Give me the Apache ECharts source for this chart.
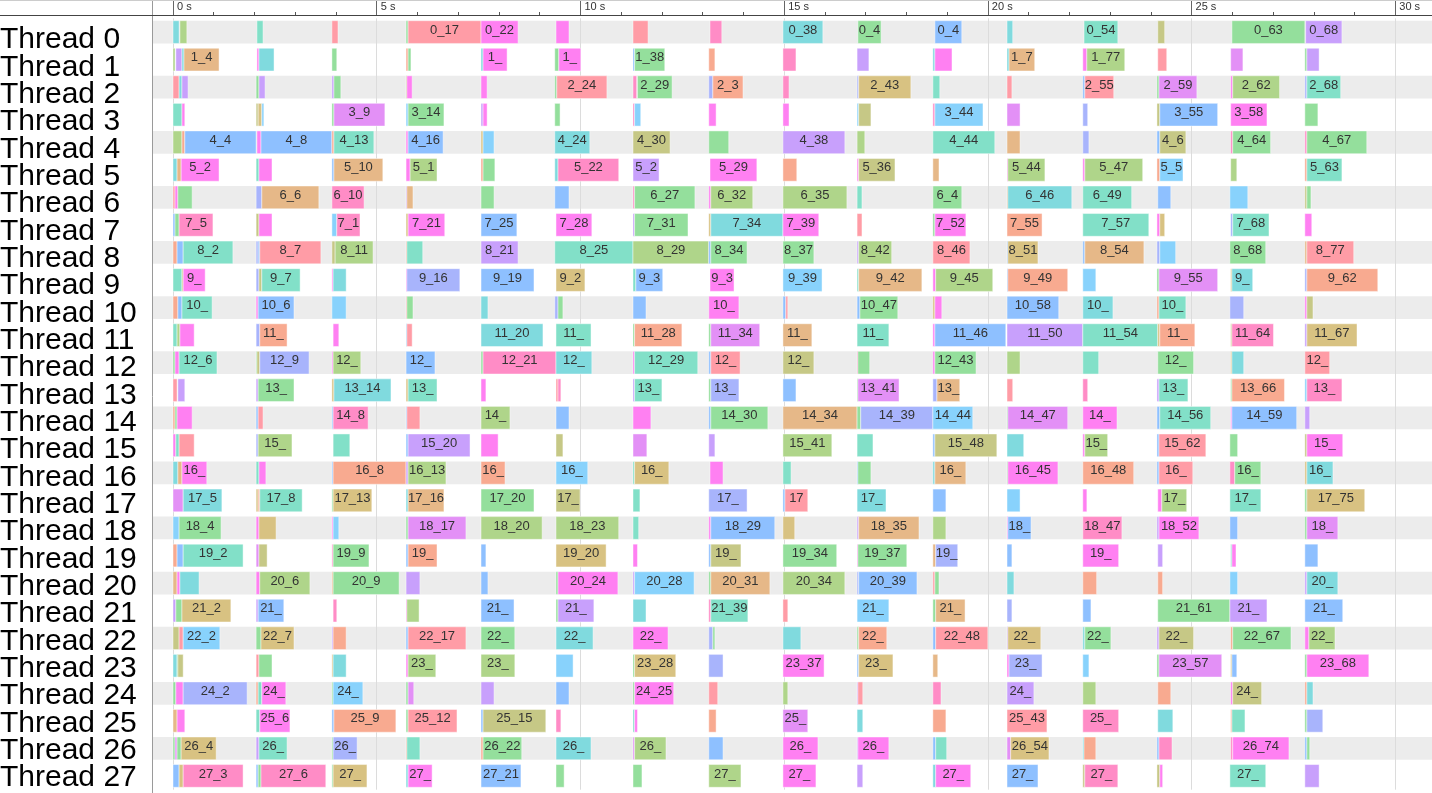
<!DOCTYPE html>
<html><head><meta charset="utf-8">
<script src="https://cdn.jsdelivr.net/npm/echarts@6.0.0/dist/echarts.min.js"></script>
<style>html,body{margin:0;padding:0;background:#fff;}#c{width:1432px;height:793px;}</style>
</head><body><div id="c"></div>
<script>
// ---- data (seconds): [start, end, kind, label] ----
const threadNames = ['Thread 0','Thread 1','Thread 2','Thread 3','Thread 4','Thread 5','Thread 6','Thread 7','Thread 8','Thread 9','Thread 10','Thread 11','Thread 12','Thread 13','Thread 14','Thread 15','Thread 16','Thread 17','Thread 18','Thread 19','Thread 20','Thread 21','Thread 22','Thread 23','Thread 24','Thread 25','Thread 26','Thread 27'];
const tickValues = [0,5,10,15,20,25,30];
const kindColors = ['#ff9ca6','#ff8cc6','#ff80f2','#e390f6','#c8a0fc','#a8b4fc','#8ec0ff','#88d2fc','#80dade','#82e0c8','#94df9c','#afd58a','#c6c886','#d8c282','#e6b888','#f8aa90'];

const t0 = [[0,0.15,8],[0.17,0.34,11],[2.06,2.21,9],[3.90,4.05,0],[5.72,5.77,10],[5.77,7.56,0,'0_17'],[7.56,8.47,2,'0_22'],[9.40,9.72,2],[11.29,11.66,0],[13.18,13.47,1],[14.97,15.95,8,'0_38'],[16.81,17.38,10,'0_4'],[18.70,19.36,6,'0_4'],[20.47,20.61,8],[22.36,23.19,9,'0_54'],[24.17,24.34,12],[25.99,27.78,10,'0_63'],[27.80,28.69,4,'0_68']];
const t1 = [[0,0.05,11],[0.07,0.22,4],[0.22,0.27,8],[0.27,1.13,14,'1_4'],[2.06,2.11,2],[2.11,2.48,8],[3.90,4.02,10],[5.72,5.77,15],[5.77,5.84,10],[7.56,7.61,8],[7.61,8.20,2,'1_'],[9.37,9.47,10],[9.47,10.01,2,'1_'],[11.29,11.33,6],[11.33,12.07,10,'1_38'],[13.15,13.30,15],[14.97,15.29,1],[16.79,17.08,4],[18.65,18.70,8],[18.70,19.12,2],[20.47,20.52,8],[20.52,21.15,14,'1_7'],[22.33,22.43,2],[22.43,23.36,11,'1_77'],[24.17,24.39,0],[25.96,26.26,3],[27.78,27.83,10],[27.83,28.13,4]];
const t2 = [[0,0.15,0],[0.15,0.22,8],[0.22,0.37,4],[2.04,2.11,10],[2.11,2.26,4],[3.90,3.95,4],[3.95,4.12,10],[5.72,5.74,12],[5.74,5.87,2],[7.56,7.71,2],[9.37,9.42,10],[9.42,10.65,0,'2_24'],[11.29,11.38,1],[11.40,12.25,10,'2_29'],[13.15,13.25,5],[13.25,13.99,15,'2_3'],[14.97,15.12,1],[16.79,16.83,5],[16.83,18.11,13,'2_43'],[18.65,18.82,9],[20.47,20.59,0],[22.33,22.38,6],[22.38,23.09,0,'2_55'],[24.15,24.20,10],[24.20,25.13,3,'2_59'],[25.96,26.01,2],[26.01,27.16,11,'2_62'],[27.78,27.83,5],[27.83,28.66,9,'2_68']];
const t3 = [[0,0.22,9],[0.22,0.29,2],[2.04,2.09,12],[2.09,2.18,13],[2.18,2.23,7],[3.90,3.95,10],[3.95,5.20,3,'3_9'],[5.72,5.77,7],[5.77,6.65,10,'3_14'],[7.56,7.61,4],[7.61,7.71,2],[9.37,9.50,10],[11.29,11.33,1],[11.33,11.48,7],[13.15,13.33,2],[14.97,15.12,2],[16.79,16.83,7],[16.83,17.13,12],[18.65,18.70,1],[18.70,19.88,7,'3_44'],[20.47,20.79,3],[22.33,22.45,5],[24.15,24.22,12],[24.22,25.64,6,'3_55'],[25.96,26.85,2,'3_58'],[27.78,28.10,10]];
const t4 = [[0,0.22,11],[0.22,0.29,15],[0.29,2.04,6,'4_4'],[2.06,2.16,2],[2.16,3.90,6,'4_8'],[3.90,3.95,15],[3.95,4.93,9,'4_13'],[5.72,5.77,2],[5.77,6.63,6,'4_16'],[7.56,7.61,13],[7.61,7.88,7],[9.37,10.23,8,'4_24'],[11.29,12.20,12,'4_30'],[13.15,13.64,10],[14.97,16.49,4,'4_38'],[16.79,16.98,11],[18.65,20.17,9,'4_44'],[20.47,20.79,14],[22.33,22.48,5],[24.15,24.22,6],[24.22,24.86,12,'4_6'],[25.96,26.01,1],[26.01,26.94,10,'4_64'],[27.78,27.83,1],[27.83,29.30,10,'4_67']];
const t5 = [[0,0.10,8],[0.10,0.20,14],[0.20,1.13,2,'5_2'],[2.04,2.11,9],[2.11,2.43,2],[3.90,3.95,6],[3.95,5.15,14,'5_10'],[5.72,5.82,2],[5.82,6.48,11,'5_1'],[7.56,7.61,15],[7.61,7.90,10],[9.37,9.45,8],[9.45,10.94,1,'5_22'],[11.29,11.93,4,'5_2'],[13.18,14.33,2,'5_29'],[14.97,15.31,15],[16.79,16.83,2],[16.83,17.72,12,'5_36'],[18.65,18.80,14],[20.47,20.49,2],[20.49,21.40,11,'5_44'],[22.33,22.38,2],[22.38,23.80,11,'5_47'],[24.15,24.22,15],[24.22,24.79,7,'5_5'],[25.96,26.11,11],[27.78,27.83,15],[27.83,28.69,9,'5_63']];
const t6 = [[0,0.05,0],[0.05,0.12,2],[0.12,0.47,10],[2.04,2.18,5],[2.18,3.58,14,'6_6'],[3.90,4.69,1,'6_10'],[5.72,5.74,4],[5.74,5.89,14],[7.56,7.88,10],[9.37,9.72,6],[11.29,11.33,1],[11.33,12.81,10,'6_27'],[13.15,13.20,2],[13.20,14.23,11,'6_32'],[14.97,16.54,11,'6_35'],[16.79,16.91,9],[18.65,19.36,10,'6_4'],[20.47,20.49,14],[20.49,22.06,8,'6_46'],[22.33,23.53,9,'6_49'],[24.17,24.49,6],[25.94,26.38,7],[27.78,27.83,12],[27.83,27.93,10]];
const t7 = [[0,0.05,6],[0.05,0.15,10],[0.15,0.98,1,'7_5'],[2.04,2.11,12],[2.11,2.43,2],[3.90,4.02,7],[4.02,4.59,1,'7_1'],[5.72,5.77,13],[5.77,6.67,2,'7_21'],[7.56,8.44,6,'7_25'],[9.40,10.28,2,'7_28'],[11.29,11.33,4],[11.33,12.64,10,'7_31'],[13.15,13.20,13],[13.20,14.97,8,'7_34'],[14.97,15.85,2,'7_39'],[16.79,16.91,0],[18.65,18.70,10],[18.70,19.46,2,'7_52'],[20.47,21.33,15,'7_55'],[22.33,23.95,9,'7_57'],[24.15,24.22,2],[24.22,24.34,13],[25.96,26.01,5],[26.01,26.90,9,'7_68'],[27.78,27.95,2]];
const t8 = [[0,0.10,15],[0.10,0.25,6],[0.25,1.47,9,'8_2'],[2.04,2.09,5],[2.09,2.13,6],[2.13,3.63,0,'8_7'],[3.90,3.98,12],[3.98,4.91,11,'8_11'],[5.72,5.74,15],[5.74,6.13,9],[7.56,8.47,4,'8_21'],[9.37,11.29,9,'8_25'],[11.29,13.15,11,'8_29'],[13.15,13.20,6],[13.20,14.09,10,'8_34'],[14.97,15.73,10,'8_37'],[16.79,16.83,4],[16.83,17.64,11,'8_42'],[18.65,19.56,0,'8_46'],[20.47,20.49,6],[20.49,21.23,13,'8_51'],[22.33,22.38,6],[22.38,23.83,14,'8_54'],[24.15,24.22,5],[24.22,24.61,7],[25.94,26.82,10,'8_68'],[27.78,27.83,14],[27.83,28.98,0,'8_77']];
const t9 = [[0,0.22,9],[0.22,0.25,12],[0.25,0.79,2,'9_'],[2.04,2.11,5],[2.11,2.18,12],[2.18,3.12,9,'9_7'],[3.90,3.93,2],[3.93,4.25,8],[5.72,5.74,2],[5.74,7.04,5,'9_16'],[7.56,8.86,6,'9_19'],[9.40,10.11,13,'9_2'],[11.29,11.36,9],[11.36,12.02,6,'9_3'],[13.18,13.77,2,'9_3'],[14.97,15.93,7,'9_39'],[16.79,16.83,9],[16.83,18.38,14,'9_42'],[18.65,18.72,2],[18.72,20.12,11,'9_45'],[20.47,20.49,6],[20.49,21.96,15,'9_49'],[22.33,22.65,7],[24.15,24.20,10],[24.20,25.64,3,'9_55'],[25.96,25.99,13],[25.99,26.50,8,'9_'],[27.78,27.83,5],[27.83,29.57,15,'9_62']];
const t10 = [[0,0.12,15],[0.12,0.22,6],[0.22,0.96,9,'10_'],[2.04,2.09,2],[2.09,2.97,6,'10_6'],[3.90,4.25,7],[5.72,5.74,0],[5.74,5.89,10],[7.56,7.73,8],[9.37,9.45,5],[9.45,9.57,10],[11.29,11.61,6],[13.15,13.89,2,'10_'],[14.97,15.04,6],[15.04,15.09,0],[16.79,16.86,6],[16.86,17.79,10,'10_47'],[18.65,18.70,13],[18.70,18.87,2],[20.47,21.74,6,'10_58'],[22.33,23.07,8,'10_'],[24.15,24.20,15],[24.20,24.86,9,'10_'],[25.94,26.28,5],[27.78,27.83,2],[27.83,27.98,12]];
const t11 = [[0,0.10,9],[0.10,0.17,11],[0.17,0.52,2],[2.04,2.13,5],[2.13,2.80,15,'11_'],[3.93,4.07,2],[5.72,5.74,7],[5.74,5.87,0],[7.56,9.08,8,'11_20'],[9.40,10.26,9,'11_'],[11.29,11.33,10],[11.33,12.49,15,'11_28'],[13.15,13.20,10],[13.20,14.40,3,'11_34'],[14.97,15.68,14,'11_'],[16.79,17.57,9,'11_'],[18.65,18.70,2],[18.70,20.44,6,'11_46'],[20.47,22.33,4,'11_50'],[22.33,24.17,9,'11_54'],[24.17,24.22,13],[24.22,25.08,15,'11_'],[25.96,25.99,12],[25.99,27.01,1,'11_64'],[27.78,27.83,4],[27.83,29.06,13,'11_67']];
const t12 = [[0,0.05,10],[0.05,0.15,2],[0.15,1.08,9,'12_6'],[2.04,2.06,10],[2.06,2.13,12],[2.13,3.34,5,'12_9'],[3.90,3.93,2],[3.93,4.61,11,'12_'],[5.72,6.43,6,'12_'],[7.56,7.61,10],[7.61,9.40,1,'12_21'],[9.40,10.28,8,'12_'],[11.29,11.33,2],[11.33,12.88,9,'12_29'],[13.15,13.20,6],[13.20,13.92,0,'12_'],[14.97,15.73,12,'12_'],[16.79,16.81,1],[16.81,17.10,10],[18.65,18.70,2],[18.70,19.71,10,'12_43'],[20.47,20.79,11],[22.33,22.72,9],[24.17,25.05,10,'12_'],[25.96,25.99,13],[25.99,26.28,8],[27.78,28.39,0,'12_']];
const t13 = [[0,0.10,0],[0.12,0.29,4],[2.04,2.09,4],[2.09,2.97,10,'13_'],[3.90,3.95,13],[3.95,5.35,8,'13_14'],[5.72,5.77,13],[5.77,6.48,9,'13_'],[7.56,7.68,2],[9.40,9.45,0],[9.45,9.52,1],[11.29,11.33,4],[11.33,12.00,9,'13_'],[13.15,13.20,10],[13.20,13.89,5,'13_'],[14.97,15.29,6],[16.79,16.81,10],[16.81,17.82,3,'13_41'],[18.65,18.75,5],[18.75,19.31,14,'13_'],[20.47,20.61,0],[22.33,22.45,1],[24.15,24.20,4],[24.20,24.91,9,'13_'],[25.96,25.99,10],[25.99,27.28,15,'13_66'],[27.78,27.83,7],[27.83,28.69,1,'13_']];
const t14 = [[0,0.05,15],[0.05,0.10,10],[0.10,0.47,2],[2.04,2.09,6],[2.09,2.21,0],[3.90,3.93,6],[3.93,4.79,1,'14_8'],[5.72,5.74,6],[5.74,6.06,0],[7.56,8.27,11,'14_'],[9.40,9.72,6],[11.29,11.73,2],[13.15,13.20,6],[13.20,14.60,10,'14_30'],[14.97,16.79,14,'14_34'],[16.79,16.88,10],[16.88,18.65,5,'14_39'],[18.65,19.63,7,'14_44'],[20.47,20.49,10],[20.49,21.96,3,'14_47'],[22.33,23.17,2,'14_'],[24.15,24.22,6],[24.22,25.47,9,'14_56'],[25.96,25.99,2],[25.99,27.58,6,'14_59'],[27.78,27.90,4]];
const t15 = [[0,0.07,2],[0.07,0.15,9],[0.15,0.52,0],[2.04,2.09,5],[2.09,2.92,11,'15_'],[3.93,4.34,9],[5.72,5.77,6],[5.77,7.29,4,'15_20'],[7.56,7.98,2],[9.40,9.57,12],[11.29,11.63,3],[13.15,13.30,4],[14.97,16.17,11,'15_41'],[16.79,17.18,9],[18.65,18.70,6],[18.70,20.22,12,'15_48'],[20.47,20.88,8],[22.33,22.38,2],[22.38,22.94,11,'15_'],[24.15,24.20,6],[24.20,25.35,0,'15_62'],[25.94,26.13,10],[27.78,27.83,12],[27.83,28.71,2,'15_']];
const t16 = [[0,0.12,8],[0.12,0.22,14],[0.22,0.83,2,'16_'],[2.04,2.11,9],[2.11,2.28,2],[3.90,3.93,6],[3.93,5.72,15,'16_8'],[5.72,5.77,4],[5.77,6.70,11,'16_13'],[7.56,8.15,15,'16_'],[9.40,10.18,7,'16_'],[11.29,11.33,9],[11.33,12.17,13,'16_'],[13.18,13.50,2],[14.97,15.17,9],[16.79,16.81,6],[16.81,17.13,10],[18.65,18.70,8],[18.70,19.46,14,'16_'],[20.47,20.49,10],[20.49,21.72,2,'16_45'],[22.33,23.58,15,'16_48'],[24.15,24.20,6],[24.20,25.03,0,'16_'],[25.94,26.06,1],[26.06,26.70,10,'16_'],[27.78,27.83,13],[27.83,28.47,8,'16_']];
const t17 = [[0,0.25,3],[0.25,1.20,8,'17_5'],[2.04,2.09,13],[2.09,2.13,15],[2.13,3.17,9,'17_8'],[3.90,3.93,10],[3.93,4.88,13,'17_13'],[5.72,5.77,8],[5.77,6.65,14,'17_16'],[7.56,8.86,10,'17_20'],[9.40,9.99,12,'17_'],[11.29,11.46,9],[13.15,14.09,5,'17_'],[14.97,15.02,6],[15.02,15.58,0,'17'],[16.79,17.50,8,'17_'],[18.65,18.97,6],[20.47,20.79,7],[22.33,22.43,2],[24.17,24.27,2],[24.27,24.88,11,'17_'],[25.94,26.70,9,'17_'],[27.78,27.83,10],[27.83,29.25,13,'17_75']];
const t18 = [[0,0.15,7],[0.15,1.18,10,'18_4'],[2.04,2.11,2],[2.11,2.53,13],[3.90,3.93,2],[3.93,4.07,7],[5.72,5.77,10],[5.77,7.19,3,'18_17'],[7.56,9.06,11,'18_20'],[9.40,10.94,11,'18_23'],[11.29,11.43,9],[13.15,13.20,2],[13.20,14.77,6,'18_29'],[14.97,15.26,13],[16.79,16.83,4],[16.83,18.31,14,'18_35'],[18.65,18.97,11],[20.47,20.49,2],[20.49,21.06,6,'18_'],[22.33,23.29,1,'18_47'],[24.15,24.20,4],[24.20,25.18,2,'18_52'],[25.94,26.13,6],[27.78,27.83,10],[27.83,28.59,3,'18_']];
const t19 = [[0,0.10,15],[0.10,0.25,6],[0.25,1.72,9,'19_2'],[2.04,2.11,3],[2.11,2.31,12],[3.90,3.93,1],[3.93,4.81,10,'19_9'],[5.72,5.77,6],[5.77,6.48,15,'19_'],[7.56,7.68,6],[9.40,10.63,13,'19_20'],[11.29,11.40,2],[13.15,13.20,6],[13.20,13.94,12,'19_'],[14.97,16.29,10,'19_34'],[16.79,16.81,2],[16.81,18.01,10,'19_37'],[18.65,18.72,14],[18.72,19.26,5,'19_'],[20.47,20.59,6],[22.33,23.21,2,'19_'],[24.17,24.29,4],[25.96,25.99,9],[25.99,26.09,2],[27.78,28.10,6]];
const t20 = [[0,0.10,14],[0.10,0.17,2],[0.17,0.64,8],[2.04,2.13,2],[2.13,3.36,11,'20_6'],[3.90,3.93,14],[3.93,5.55,10,'20_9'],[5.72,6.06,4],[7.56,7.73,6],[9.40,9.45,10],[9.45,10.92,2,'20_24'],[11.29,11.33,4],[11.33,12.79,7,'20_28'],[13.15,13.20,10],[13.20,14.65,14,'20_31'],[14.97,16.49,11,'20_34'],[16.79,16.83,5],[16.83,18.26,6,'20_39'],[18.65,18.70,0],[18.70,18.80,10],[20.47,20.64,8],[22.33,22.67,15],[24.17,24.29,15],[25.94,26.13,7],[27.78,27.83,4],[27.83,28.59,8,'20_']];
const t21 = [[0,0.07,4],[0.07,0.22,10],[0.22,1.42,13,'21_2'],[2.04,2.09,4],[2.09,2.72,6,'21_'],[3.93,4.02,1],[5.72,5.74,2],[5.74,6.04,11],[7.56,8.37,6,'21_'],[9.40,9.45,10],[9.45,10.33,4,'21_'],[11.29,11.61,8],[13.15,13.20,1],[13.20,14.11,9,'21_39'],[14.97,15.09,0],[16.79,17.57,7,'21_'],[18.65,18.72,10],[18.72,19.44,14,'21_'],[20.47,20.59,5],[22.33,22.53,6],[24.17,25.94,10,'21_61'],[25.94,26.85,4,'21_'],[27.78,28.71,6,'21_']];
const t22 = [[0,0.15,12],[0.15,0.25,0],[0.25,1.15,7,'22_2'],[2.04,2.16,10],[2.16,2.97,13,'22_7'],[3.90,3.93,4],[3.93,4.25,15],[5.72,5.77,6],[5.77,7.19,0,'22_17'],[7.56,8.39,10,'22_'],[9.40,10.31,8,'22_'],[11.29,12.15,2,'22_'],[13.15,13.25,5],[13.25,13.30,10],[14.97,15.41,8],[16.79,16.83,10],[16.83,17.52,15,'22_'],[18.65,18.72,6],[18.72,20.00,0,'22_48'],[20.47,20.49,4],[20.49,21.30,13,'22_'],[22.33,22.38,8],[22.38,23.02,10,'22_'],[24.15,24.20,4],[24.20,25.05,12,'22_'],[25.96,26.01,15],[26.01,27.44,10,'22_67'],[27.78,27.88,2],[27.88,28.52,11,'22_']];
const t23 = [[0,0.10,8],[0.10,0.12,10],[0.12,0.25,12],[2.04,2.11,0],[2.11,2.43,10],[3.90,3.93,13],[3.93,4.25,8],[5.72,5.77,2],[5.77,6.45,11,'23_'],[7.56,8.39,11,'23_'],[9.40,9.82,7],[11.29,11.33,10],[11.33,12.34,13,'23_28'],[13.15,13.50,5],[14.97,15.98,2,'23_37'],[16.79,16.83,6],[16.83,17.67,13,'23_'],[18.65,18.77,14],[20.47,20.52,2],[20.52,21.33,5,'23_'],[22.33,22.48,7],[24.15,24.20,10],[24.20,25.74,3,'23_57'],[25.96,25.99,13],[25.99,26.11,6],[27.78,27.83,10],[27.83,29.35,2,'23_68']];
const t24 = [[0,0.07,10],[0.07,0.25,2],[0.25,1.82,5,'24_2'],[2.04,2.09,15],[2.09,2.18,9],[2.18,2.77,2,'24_'],[3.90,3.93,10],[3.93,4.66,7,'24_'],[5.72,5.77,10],[5.77,5.91,3],[7.56,7.88,4],[9.40,9.72,6],[11.29,11.33,10],[11.33,12.29,2,'24_25'],[13.15,13.37,0],[14.97,15.09,11],[16.79,16.81,4],[16.81,16.93,0],[18.65,18.85,1],[20.47,21.13,4,'24_'],[22.33,22.65,11],[24.17,24.49,15],[25.96,26.01,2],[26.01,26.72,12,'24_'],[27.78,27.83,15],[27.83,27.98,8]];
const t25 = [[0,0.10,14],[0.10,0.29,2],[2.04,2.13,9],[2.13,2.87,2,'25_6'],[3.90,3.95,6],[3.95,5.47,15,'25_9'],[5.72,5.77,10],[5.77,6.97,0,'25_12'],[7.56,7.61,6],[7.61,9.15,12,'25_15'],[9.40,9.52,1],[11.29,11.33,9],[11.33,11.40,2],[13.15,13.33,15],[14.97,15.58,3,'25_'],[16.79,16.93,8],[18.65,18.97,15],[20.47,21.45,0,'25_43'],[22.33,23.21,1,'25_'],[24.17,24.54,8],[25.96,25.99,15],[25.99,26.31,9],[27.78,27.83,10],[27.83,28.22,5]];
const t26 = [[0,0.05,10],[0.05,0.10,3],[0.10,0.20,10],[0.20,1.06,13,'26_4'],[2.04,2.11,4],[2.11,2.80,9,'26_'],[3.90,3.93,10],[3.93,4.52,5,'26_'],[5.72,5.74,15],[5.74,6.06,9],[7.56,7.61,15],[7.61,8.56,10,'26_22'],[9.40,10.26,8,'26_'],[11.29,11.33,3],[11.33,12.10,11,'26_'],[13.15,13.50,6],[14.97,15.83,2,'26_'],[16.79,16.81,4],[16.81,17.57,2,'26_'],[18.65,18.72,6],[18.72,18.99,9],[20.47,20.56,3],[20.56,21.50,13,'26_54'],[22.33,22.36,8],[22.36,22.65,15],[24.15,24.20,6],[24.20,24.52,1],[25.96,26.01,1],[26.01,27.39,2,'26_74'],[27.78,27.83,6],[27.83,27.90,10]];
const t27 = [[0,0.15,6],[0.15,0.25,13],[0.25,1.72,1,'27_3'],[2.04,2.09,6],[2.09,2.16,10],[2.16,3.75,1,'27_6'],[3.90,3.93,10],[3.93,4.76,13,'27_'],[5.72,5.77,8],[5.77,6.36,2,'27_'],[7.56,8.54,6,'27_21'],[9.40,9.60,10],[11.29,11.51,10],[13.15,13.94,11,'27_'],[14.97,15.78,2,'27_'],[16.79,16.93,4],[18.65,18.72,8],[18.72,19.58,2,'27_'],[20.47,21.23,6,'27_'],[22.33,22.38,12],[22.38,23.19,1,'27_'],[24.15,24.22,12],[24.22,24.29,2],[25.94,26.82,9,'27_'],[27.78,28.13,4]];

const threadTasks = [t0,t1,t2,t3,t4,t5,t6,t7,t8,t9,t10,t11,t12,t13,t14,t15,t16,t17,t18,t19,t20,t21,t22,t23,t24,t25,t26,t27];

// ---- build series data ----
const taskData = [];
const taskLabels = [];
threadTasks.forEach(function (list, row) {
  list.forEach(function (t) {
    taskData.push([row, t[0], t[1], t[2]]);
    taskLabels.push(t[3] || '');
  });
});
const bandData = threadNames.map(function (n, i) { return [i]; });

const LEFT_PANEL = 152;
const BAND_RATIO = 0.825;
const FONT = 'Liberation Sans, Arial, sans-serif';

const chart = echarts.init(document.getElementById('c'), null, {renderer: 'canvas'});
const option = {
  animation: false,
  backgroundColor: '#ffffff',
  grid: [
    {left: 173, right: 36.7, top: 18.3, bottom: 3.3, containLabel: false, outerBoundsMode: 'none'},
    {left: 173, right: 36.7, top: 26.3, height: 765.3, containLabel: false, outerBoundsMode: 'none'}
  ],
  xAxis: [{
    type: 'value', gridIndex: 0, position: 'top', min: 0, max: 30, interval: 5, offset: 3.3,
    axisLine: {show: true, lineStyle: {color: '#444', width: 1}},
    axisTick: {show: true, length: 15, lineStyle: {color: '#666', width: 1}},
    minorTick: {show: true, splitNumber: 5, length: 3, lineStyle: {color: '#555', width: 1}},
    axisLabel: {
      show: true, margin: 3, align: 'left', padding: [0, 0, 0, 4],
      color: '#333', fontSize: 11, fontFamily: FONT,
      formatter: function (v) { return tickValues.indexOf(v) >= 0 ? v + ' s' : ''; }
    },
    splitLine: {show: true, lineStyle: {color: '#dcdcdc', width: 1}},
    minorSplitLine: {show: false}
  }, {
    type: 'value', gridIndex: 1, min: 0, max: 30, show: false
  }],
  yAxis: [{
    type: 'category', gridIndex: 0, inverse: true, data: threadNames,
    axisLine: {show: false}, axisTick: {show: false}, splitLine: {show: false},
    axisLabel: {show: false}
  }, {
    type: 'category', gridIndex: 1, inverse: true, data: threadNames,
    axisLine: {show: false}, axisTick: {show: false}, splitLine: {show: false},
    axisLabel: {
      show: true, margin: 173, align: 'left', color: '#000',
      fontSize: 30, fontFamily: FONT, interval: 0
    }
  }],
  graphic: [
    {type: 'line', shape: {x1: LEFT_PANEL + 0.5, y1: 0, x2: LEFT_PANEL + 0.5, y2: 793}, style: {stroke: '#9a9a9a', lineWidth: 1}, z: 100},
    {type: 'line', shape: {x1: 0, y1: 0.5, x2: 1432, y2: 0.5}, style: {stroke: '#cccccc', lineWidth: 1}, z: 100},
    {type: 'line', shape: {x1: 0, y1: 15.5, x2: 1432, y2: 15.5}, style: {stroke: '#444', lineWidth: 1}, z: 100}
  ],
  series: [
    {
      type: 'custom', name: 'rows', z: -1, silent: true, clip: false,
      xAxisIndex: 0, yAxisIndex: 0,
      data: bandData,
      renderItem: function (params, api) {
        const row = api.value(0);
        if (row % 2 !== 0) return null;
        const c = api.coord([0, row]);
        const h = api.size([0, 1])[1] * BAND_RATIO;
        return {type: 'rect', shape: {x: LEFT_PANEL + 1, y: c[1] - h / 2, width: api.getWidth() - LEFT_PANEL - 1, height: h},
          style: {fill: '#ececec'}};
      }
    },
    {
      type: 'custom', name: 'tasks', clip: false,
      xAxisIndex: 0, yAxisIndex: 0,
      encode: {x: [1, 2], y: 0},
      data: taskData,
      renderItem: function (params, api) {
        const row = api.value(0);
        const p0 = api.coord([api.value(1), row]);
        const p1 = api.coord([api.value(2), row]);
        const h = api.size([0, 1])[1] * BAND_RATIO;
        const w = Math.max(p1[0] - p0[0], 1);
        const children = [{
          type: 'rect', shape: {x: p0[0], y: p0[1] - h / 2, width: w, height: h},
          style: {fill: kindColors[api.value(3)], stroke: 'rgba(255,255,255,0.45)', lineWidth: 1}
        }];
        const label = taskLabels[params.dataIndex];
        if (label) {
          children.push({
            type: 'text', silent: true,
            style: {x: p0[0] + w / 2, y: p0[1] - 2, text: label, align: 'center', verticalAlign: 'middle',
              fill: '#333', fontSize: 13, fontFamily: FONT}
          });
        }
        return {type: 'group', children: children};
      }
    }
  ]
};
chart.setOption(option);
</script>
</body></html>
